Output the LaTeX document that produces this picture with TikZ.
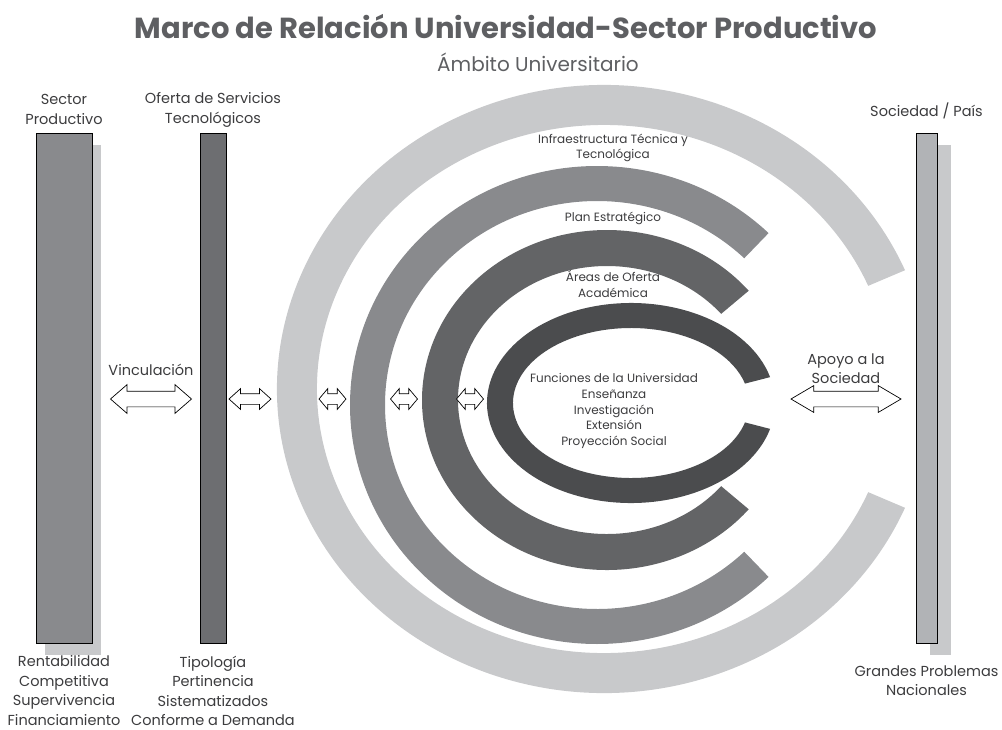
\documentclass[tikz,border=0pt]{standalone}
\usepackage{fontspec}
\setmainfont{Poppins}
\usetikzlibrary{positioning,shapes.arrows,shadows}
\definecolor{ringa}{HTML}{C8C9CB}
\definecolor{ringb}{HTML}{898A8D}
\definecolor{ringc}{HTML}{636466}
\definecolor{ringd}{HTML}{4B4C4E}
\definecolor{sectorgray}{HTML}{898A8D}
\definecolor{ofertagray}{HTML}{6D6E71}
\definecolor{sociedadgray}{HTML}{B1B3B6}
\definecolor{txt}{HTML}{3C3C3E}
\definecolor{ttl}{HTML}{5E5F62}
\tikzset{bar/.style={draw=black, line width=1pt, minimum height=510pt, inner sep=0pt},
	barshadow/.style={drop shadow={shadow xshift=#1, shadow yshift=-11.5pt, fill=ringa, opacity=1}},
	lbl/.style={align=center, text=txt, inner sep=0pt, font=\fontsize{14.5}{19.5}\selectfont},
	inlbl/.style={align=center, text=txt, inner sep=0pt, font=\fontsize{12}{15.8}\selectfont},
	link/.style={double arrow, draw=black, fill=white, line width=0.7pt, inner xsep=0pt, inner ysep=#1},
	link/.default=5pt}

\begin{document}
\begin{tikzpicture}[x=1pt, y=-1pt]
	\useasboundingbox (0,0) rectangle (1002,729);

	\foreach \cx/\cy/\ao/\bo/\ai/\bi/\ta/\tb/\col in {604/389/327/304/287/264/337/23/ringa,
			597/405/247/239/212/204/314/46/ringb, 607/400/185/170/149/134/320/40/ringc,
			631/403/144/100/118/75/345/15/ringd}
		\fill[\col] (\cx,\cy) ++(\ta:{\ao} and {\bo})
			arc[start angle=\ta, end angle=\tb, x radius=\ao, y radius=\bo]
			-- ++({(\ai-\ao)*cos(\tb)},{(\bi-\bo)*sin(\tb)})
			arc[start angle=\tb, end angle=\ta, x radius=\ai, y radius=\bi] -- cycle;

	\node[font=\fontsize{29}{32}\selectfont\bfseries, text=ttl] (title) at (506,27) {Marco de Relación Universidad-Sector Productivo};
	\node[font=\fontsize{20}{22}\selectfont, text=ttl] (ambito) at (538,62) {Ámbito Universitario};

	\node[bar, fill=sectorgray, minimum width=56pt, barshadow=9pt] (sector) at (64,388) {};
	\node[bar, fill=ofertagray, minimum width=26pt] (oferta) at (213,388) {};
	\node[bar, fill=sociedadgray, minimum width=21pt, barshadow=14pt] (sociedad) at (926.5,388) {};

	\node[lbl] (sectortop) [above=8pt of sector] {Sector\\Productivo};
	\node[lbl] (sectorbot) [below=12pt of sector] {Rentabilidad\\Competitiva\\Supervivencia\\Financiamiento};
	\node[lbl] (ofertatop) [above=5pt of oferta] {Oferta de Servicios\\Tecnológicos};
	\node[lbl] (ofertabot) [below=12pt of oferta] {Tipología\\Pertinencia\\Sistematizados\\Conforme a Demanda};
	\node[lbl] (sociedadtop) [above=13pt of sociedad] {Sociedad / País};
	\node[lbl] (sociedadbot) [below=22pt of sociedad] {Grandes Problemas\\Nacionales};

	\node[inlbl] (infra) at (613,148) {Infraestructura Técnica y\\Tecnológica};
	\node[inlbl] (plan) at (613,218) {Plan Estratégico};
	\node[inlbl] (areas) at (613,284) {Áreas de Oferta\\Académica};
	\node[inlbl] (funciones) at (614,411) {Funciones de la Universidad\\Enseñanza\\Investigación\\Extensión\\Proyección Social};

	\node[link=7.5pt, minimum height=81pt, minimum width=28pt, double arrow head extend=6.5pt, double arrow tip angle=82] (vinc) at (151,399) {};
	\node[link, minimum height=42pt, minimum width=20pt, double arrow head extend=5pt, double arrow tip angle=84] (linka) at (250,399) {};
	\node[link, minimum height=27pt, minimum width=20pt, double arrow head extend=5pt, double arrow tip angle=100] (linkb) at (332.5,399) {};
	\node[link, minimum height=27pt, minimum width=20pt, double arrow head extend=5pt, double arrow tip angle=100] (linkc) at (404,399) {};
	\node[link, minimum height=27pt, minimum width=20pt, double arrow head extend=5pt, double arrow tip angle=100] (linkd) at (470,399) {};
	\node[link=7.5pt, minimum height=110pt, minimum width=26pt, double arrow head extend=5.5pt, double arrow tip angle=61] (apoyo) at (846,399) {};

	\node[lbl] (vinctxt) [above=14.5pt of vinc] {Vinculación};
	\node[lbl] (apoyotxt) [above=6.5pt of apoyo] {Apoyo a la\\Sociedad};
\end{tikzpicture}
\end{document}
